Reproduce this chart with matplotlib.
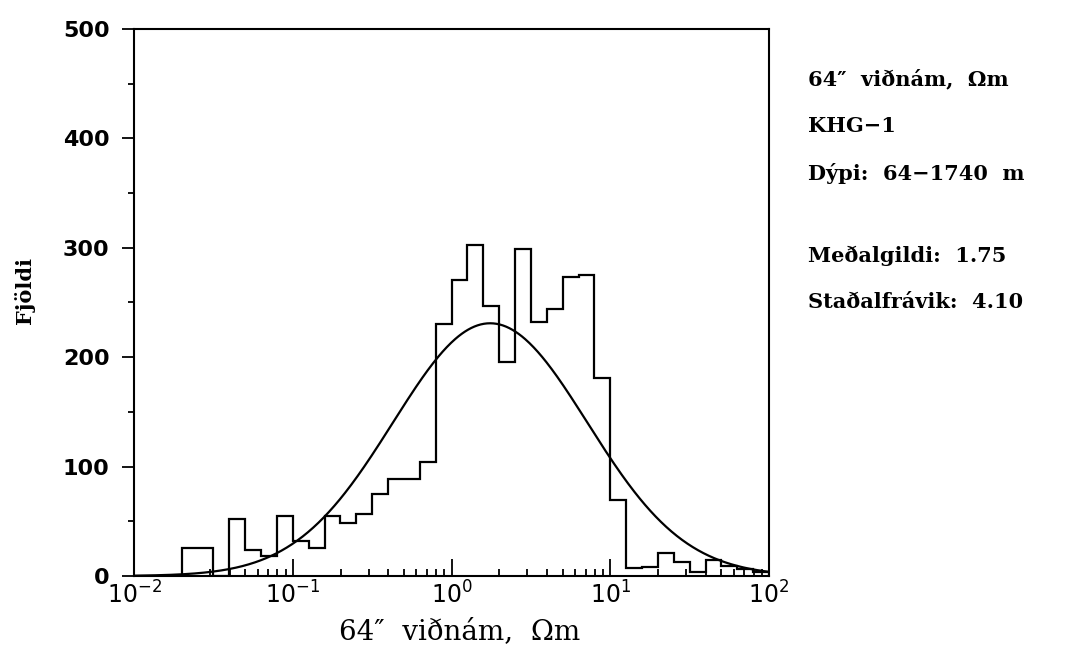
import matplotlib
matplotlib.use('Agg')
import matplotlib.pyplot as plt
import matplotlib.ticker as mticker
import numpy as np

# Histogram: bins are 0.1 decade wide, starting at log10(R) = -1.7
log_start = -1.7
log_step = 0.1
counts = [26, 26, 0, 52, 24, 18, 55, 32, 26, 55,
          48, 57, 75, 89, 89, 104, 230, 271, 303, 247,
          196, 299, 232, 244, 273, 275, 181, 69, 7, 8,
          21, 13, 4, 15, 9, 6, 4]

# Fitted log-normal curve (values shown on the chart)
medalgildi = 1.75
stadalfravik = 4.10
fit_peak = 231

info_lines = ["64″  viðnám,  Ωm", "KHG−1", "Dýpi:  64−1740  m", "",
              "Meðalgildi:  1.75", "Staðalfrávik:  4.10"]

edges = 10 ** (log_start + log_step * np.arange(len(counts) + 1))

lx = np.linspace(-2, 2, 600)
mu = np.log10(medalgildi)
sig = np.log10(stadalfravik)
curve = fit_peak * np.exp(-0.5 * ((lx - mu) / sig) ** 2)

fig = plt.figure(figsize=(10.8, 6.56), dpi=100)
ax = fig.add_axes([0.1241, 0.1220, 0.588, 0.8338])

ax.stairs(counts, edges, baseline=0, fill=False, color='black', linewidth=1.6)
ax.plot(10 ** lx, curve, color='black', linewidth=1.6)

ax.set_xscale('log')
ax.set_xlim(1e-2, 1e2)
ax.set_ylim(0, 500)

ax.xaxis.set_major_locator(mticker.LogLocator(base=10, numticks=10))
ax.xaxis.set_minor_locator(mticker.LogLocator(base=10, subs=np.arange(2, 10), numticks=20))
ax.xaxis.set_minor_formatter(mticker.NullFormatter())
ax.yaxis.set_major_locator(mticker.MultipleLocator(100))
ax.yaxis.set_minor_locator(mticker.MultipleLocator(50))

for s in ax.spines.values():
    s.set_linewidth(1.5)

ax.tick_params(axis='x', which='major', direction='in', length=12.5, width=1.3,
               labelsize=17, pad=4)
ax.tick_params(axis='x', which='minor', direction='in', length=5, width=1.3)
ax.tick_params(axis='y', which='major', direction='out', length=8.6, width=1.3,
               labelsize=16, pad=9)
ax.tick_params(axis='y', which='minor', direction='out', length=4.3, width=1.3)
for lab in ax.get_yticklabels():
    lab.set_fontweight('bold')

fig.text(460 / 1080, 1 - 632 / 656, "64″  viðnám,  Ωm", family='DejaVu Serif',
         fontsize=20, ha='center', va='center')
fig.text(25 / 1080, 1 - 290 / 656, "Fjöldi", family='DejaVu Serif',
         fontsize=15, fontweight='bold', rotation=90, ha='center', va='center')

ys = [79, 126, 173, 0, 256, 302]
for txt, yy in zip(info_lines, ys):
    if txt:
        fig.text(808 / 1080, 1 - yy / 656, txt, family='DejaVu Serif',
                 fontsize=15, fontweight='bold', ha='left', va='center')

fig.savefig('out.png', dpi=100)
